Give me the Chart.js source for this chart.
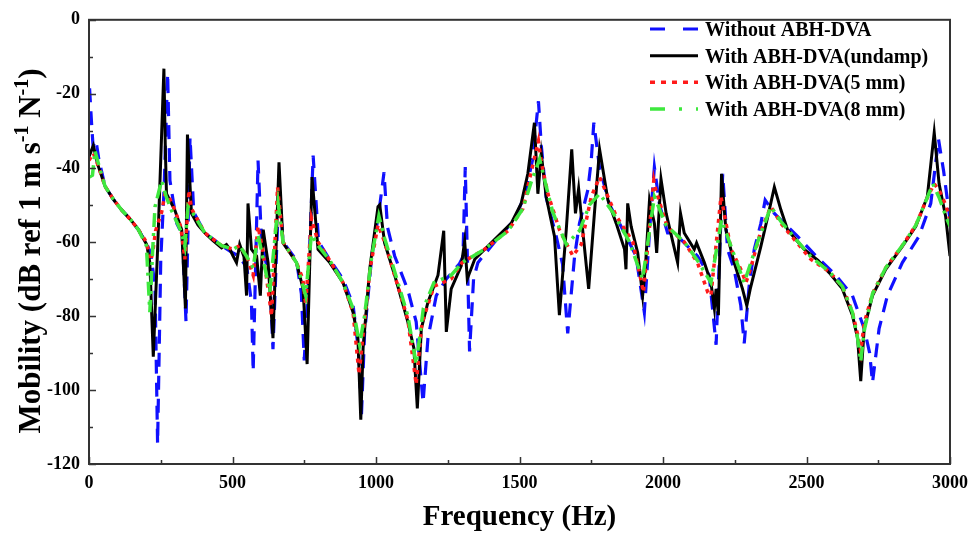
<!DOCTYPE html>
<html>
<head>
    <title>Mobility - ABH-DVA</title>
    <script src="https://cdn.jsdelivr.net/npm/chart.js"></script>
    <style>
        body {
            margin: 0;
            background: #fff;
        }
        #wrap {
            width: 977px;
            height: 534px;
        }
    </style>
</head>
<body>
    <div id="wrap"><canvas id="mobilityChart"></canvas></div>

    <script>
        const seriesNames = ['Without ABH-DVA', 'With ABH-DVA(undamp)', 'With ABH-DVA(5 mm)', 'With ABH-DVA(8 mm)'];
        const xTicks = [0, 500, 1000, 1500, 2000, 2500, 3000];
        const yTicks = [-120, -100, -80, -60, -40, -20, 0];

        // Without ABH-DVA
        const freqBlue = [2, 9, 14, 24, 35, 56, 85, 114, 145, 172, 201, 215, 230, 239, 250, 262, 274, 282, 306, 325, 338, 352, 365, 404, 462, 502, 525, 550, 566, 572, 589, 600, 612, 630, 641, 650, 662, 676, 723, 740, 750, 765, 781, 800, 839, 885, 920, 940, 949, 960, 985, 1010, 1028, 1040, 1065, 1111, 1140, 1164, 1181, 1210, 1245, 1290, 1303, 1311, 1326, 1340, 1355, 1420, 1483, 1520, 1545, 1566, 1576, 1593, 1628, 1650, 1668, 1692, 1709, 1738, 1750, 1759, 1779, 1814, 1860, 1906, 1935, 1955, 1970, 1988, 2016, 2040, 2120, 2161, 2185, 2208, 2225, 2248, 2271, 2283, 2300, 2318, 2341, 2356, 2388, 2469, 2533, 2602, 2660, 2701, 2720, 2730, 2753, 2782, 2834, 2892, 2933, 2960, 2978, 3000];
        const magBlue = [-18.5, -28, -34, -32.5, -38, -45, -48.5, -51.4, -54, -56.7, -60.5, -63, -72, -114.5, -65, -45, -14.5, -43.4, -55, -58, -81.6, -31.8, -52, -57.6, -61, -63, -64, -67, -76.3, -95, -38, -58, -64, -70, -89, -70, -45, -60, -65, -74, -92, -70, -36.7, -60, -64.8, -70, -77, -90, -107.4, -85, -64, -52, -41.2, -56, -63.8, -73, -81.6, -103.4, -86, -74.5, -70, -66, -64, -39.8, -89.6, -70, -65.6, -59.4, -54, -47, -38, -22, -34, -48, -58.5, -66, -84.7, -63.8, -55, -46, -38, -27.8, -40, -50, -56.7, -63.8, -79, -55, -39.8, -50, -57.6, -57.6, -63.8, -69, -87.8, -41.6, -62, -67.4, -77.2, -87.4, -72, -62, -55, -48.7, -52.3, -58.5, -63.8, -69, -74.5, -83.4, -90, -98, -83.4, -74.5, -65.6, -58.5, -49.6, -32.3, -41, -54];

        // With ABH-DVA (undamp)
        const freqBlack = [0, 15, 30, 56, 85, 114, 145, 172, 201, 212, 224, 240, 261, 266, 270, 299, 323, 336, 343, 357, 380, 404, 430, 462, 479, 491, 502, 514, 525, 540, 549, 554, 566, 584, 597, 607, 624, 641, 662, 676, 700, 723, 746, 760, 777, 798, 839, 885, 920, 937, 947, 955, 978, 1007, 1013, 1030, 1065, 1111, 1132, 1144, 1158, 1181, 1216, 1236, 1245, 1262, 1297, 1309, 1318, 1344, 1413, 1471, 1506, 1529, 1552, 1564, 1576, 1593, 1622, 1639, 1663, 1682, 1695, 1706, 1720, 1741, 1761, 1779, 1808, 1837, 1866, 1871, 1877, 1889, 1912, 1929, 1939, 1953, 1970, 1978, 1993, 2011, 2051, 2061, 2074, 2109, 2117, 2144, 2167, 2179, 2185, 2193, 2204, 2219, 2248, 2277, 2292, 2304, 2341, 2365, 2388, 2411, 2434, 2492, 2540, 2579, 2625, 2660, 2678, 2689, 2701, 2730, 2776, 2834, 2881, 2921, 2945, 2962, 2985, 3000];
        const magBlack = [-37, -34, -39, -45, -48.5, -51.4, -54, -56.7, -60.7, -65.6, -91, -60, -13.2, -35, -47, -51.4, -56.7, -78, -31, -52.3, -55.5, -57.6, -59.5, -61.6, -60.7, -62, -63.8, -65.6, -60.7, -64, -74.5, -49.6, -62, -63.8, -74.5, -56.7, -65.6, -86, -38.5, -60.3, -63, -65.6, -72.7, -93, -42.5, -62, -65.6, -71, -79, -86, -108, -88.7, -67.4, -50.5, -50, -60.3, -69, -81.6, -88.7, -105, -83.4, -76.3, -69, -57, -84.3, -72.7, -66.5, -59.8, -70, -64.7, -59.4, -55, -49.6, -41.6, -27.8, -47, -36.3, -47.8, -58.5, -79.8, -56.7, -35, -52.3, -45.6, -56.7, -72.7, -52.3, -35, -48.7, -55, -62, -67.4, -49.6, -55.8, -63, -74.5, -66.5, -48.7, -55, -63, -43, -52.3, -65.6, -52.3, -57.6, -62, -60.3, -65.6, -71, -78, -72.7, -79.8, -41.6, -56.7, -65.6, -72.7, -77.2, -72.7, -61.2, -53.2, -45.2, -51.4, -56.7, -62, -65, -68.3, -72.7, -79.8, -86, -97.6, -83.4, -74.5, -67.4, -61.2, -55.8, -47.8, -30.5, -44.3, -53.2, -63.8];

        // With ABH-DVA (5 mm)
        const freqRed = [0, 15, 30, 56, 85, 114, 145, 172, 200, 215, 222, 232, 253, 265, 276, 299, 320, 334, 348, 357, 404, 462, 502, 525, 550, 572, 589, 605, 630, 636, 657, 676, 723, 745, 755, 775, 798, 839, 885, 920, 941, 955, 980, 1007, 1030, 1065, 1111, 1140, 1160, 1202, 1262, 1300, 1378, 1460, 1512, 1535, 1566, 1576, 1599, 1639, 1686, 1715, 1750, 1779, 1837, 1895, 1932, 1968, 1975, 2011, 2028, 2074, 2120, 2156, 2167, 2202, 2237, 2271, 2289, 2306, 2341, 2376, 2411, 2515, 2579, 2625, 2660, 2678, 2689, 2701, 2730, 2776, 2834, 2881, 2921, 2945, 2962, 2985, 3000];
        const magRed = [-38, -36, -39, -45, -48.5, -51.4, -54, -56.7, -60, -65, -63, -57, -52, -47, -47.4, -51.4, -56, -64.7, -46, -51, -57.6, -61, -62, -61, -64, -69, -55.8, -62, -76.3, -80, -45.2, -60, -65.6, -70, -77, -53.6, -60, -65, -71, -79, -95.8, -85, -67, -55.4, -60, -69, -81, -98.5, -82, -72, -70, -65.6, -62, -57, -51, -43, -32.7, -38.5, -47, -56.7, -63.8, -60.7, -47.8, -42.5, -53, -60, -73.6, -43.4, -46, -55, -57, -60, -65.6, -73.6, -74.5, -47.8, -62, -67.4, -71, -67, -57, -50.5, -55, -64.7, -68, -72, -79, -85, -89.6, -82, -74, -67, -61, -55.5, -48, -44.3, -46, -50, -54];

        // With ABH-DVA (8 mm)
        const freqGreen = [0, 12, 21, 35, 56, 85, 114, 145, 172, 200, 212, 222, 230, 253, 270, 287, 320, 334, 345, 360, 404, 462, 502, 525, 550, 572, 589, 605, 630, 659, 676, 723, 755, 775, 798, 839, 885, 920, 943, 960, 985, 1010, 1030, 1065, 1111, 1140, 1165, 1202, 1262, 1300, 1378, 1460, 1512, 1540, 1570, 1590, 1616, 1663, 1709, 1744, 1779, 1825, 1883, 1929, 1970, 2011, 2074, 2120, 2167, 2204, 2237, 2283, 2330, 2376, 2411, 2515, 2579, 2625, 2660, 2678, 2689, 2701, 2730, 2776, 2834, 2881, 2921, 2940, 2962, 2985, 3000];
        const magGreen = [-42.5, -42, -35.4, -39.5, -45, -48.5, -51.4, -54, -56.7, -61, -79, -62, -50.5, -43.4, -48, -51.4, -57, -61.2, -50.5, -52, -57.6, -61, -62, -61, -64, -67, -58, -64, -73.6, -49.6, -60, -65.6, -74.5, -58, -61, -65, -71, -78, -87.8, -80, -64, -53, -59, -68, -80, -93, -78, -71, -69, -65.6, -62, -57, -51, -44, -37.6, -44, -52, -60.7, -57, -50, -47, -52, -60, -70, -47.8, -55.5, -60, -65, -71, -54, -61.2, -71, -60, -50.5, -54.5, -64, -68, -72, -79, -86, -92.3, -84, -74, -67, -61, -55.5, -48, -44.3, -48, -53, -55.8];

        const serif = '"Liberation Serif", "Times New Roman", serif';

        function toPoints(freqs, mags) {
            return freqs.map((f, i) => ({ x: f, y: mags[i] }));
        }

        // frame, inward ticks, axis titles and legend
        const decorPlugin = {
            id: 'decor',
            afterDraw(chart) {
                const ctx = chart.ctx;
                const a = chart.chartArea;
                const xs = chart.scales.x;
                const ys = chart.scales.y;
                ctx.save();

                ctx.strokeStyle = '#333';
                ctx.lineWidth = 2;
                ctx.strokeRect(a.left, a.top, a.right - a.left, a.bottom - a.top);

                ctx.beginPath();
                for (let v = 0; v <= 3000; v += 250) {
                    const px = Math.round(xs.getPixelForValue(v)) + 0.5;
                    const len = v % 500 === 0 ? 7 : 4;
                    ctx.moveTo(px, a.bottom);
                    ctx.lineTo(px, a.bottom - len);
                }
                for (let v = -120; v <= 0; v += 10) {
                    const py = Math.round(ys.getPixelForValue(v)) + 0.5;
                    const len = v % 20 === 0 ? 7 : 4;
                    ctx.moveTo(a.left, py);
                    ctx.lineTo(a.left + len, py);
                }
                ctx.lineWidth = 1.5;
                ctx.stroke();

                // x title
                ctx.fillStyle = '#000';
                ctx.font = 'bold 29px ' + serif;
                ctx.textAlign = 'center';
                ctx.textBaseline = 'alphabetic';
                ctx.fillText('Frequency (Hz)', (a.left + a.right) / 2, 525);

                // y title with superscripts
                const parts = [
                    ['Mobility (dB ref 1 m s', false],
                    ['-1', true],
                    [' N', false],
                    ['-1', true],
                    [')', false]
                ];
                const bigFont = 'bold 31px ' + serif;
                const supFont = 'bold 20px ' + serif;
                let total = 0;
                parts.forEach(p => {
                    ctx.font = p[1] ? supFont : bigFont;
                    total += ctx.measureText(p[0]).width;
                });
                ctx.translate(40, 251);
                ctx.rotate(-Math.PI / 2);
                ctx.textAlign = 'left';
                let cx = -total / 2;
                parts.forEach(p => {
                    ctx.font = p[1] ? supFont : bigFont;
                    ctx.fillText(p[0], cx, p[1] ? -12 : 0);
                    cx += ctx.measureText(p[0]).width;
                });
                ctx.setTransform(1, 0, 0, 1, 0, 0);

                // legend
                const rows = [36, 62.7, 89.3, 116];
                chart.data.datasets.forEach((ds, i) => {
                    const ly = rows[i] - 7;
                    ctx.beginPath();
                    ctx.strokeStyle = ds.borderColor;
                    ctx.lineWidth = ds.borderWidth;
                    ctx.setLineDash(ds.legendDash || []);
                    ctx.moveTo(650, ly);
                    ctx.lineTo(698, ly);
                    ctx.stroke();
                    ctx.setLineDash([]);
                    ctx.fillStyle = '#000';
                    ctx.font = 'bold 20px ' + serif;
                    ctx.textAlign = 'left';
                    ctx.fillText(ds.label, 705, rows[i]);
                });

                ctx.restore();
            }
        };

        const data = {
            datasets: [
                {
                    label: seriesNames[0],
                    data: toPoints(freqBlue, magBlue),
                    borderColor: '#1010ff',
                    borderWidth: 3.2,
                    borderDash: [14, 9],
                    legendDash: [15, 18],
                    order: 4
                },
                {
                    label: seriesNames[1],
                    data: toPoints(freqBlack, magBlack),
                    borderColor: '#000000',
                    borderWidth: 3,
                    order: 3
                },
                {
                    label: seriesNames[2],
                    data: toPoints(freqRed, magRed),
                    borderColor: '#ff1a1a',
                    borderWidth: 3.5,
                    borderDash: [4, 5],
                    legendDash: [5, 6],
                    order: 2
                },
                {
                    label: seriesNames[3],
                    data: toPoints(freqGreen, magGreen),
                    borderColor: '#3ee83e',
                    borderWidth: 3.5,
                    borderDash: [14, 6, 3, 6],
                    legendDash: [15, 14, 3, 14],
                    order: 1
                }
            ]
        };

        const config = {
            type: 'line',
            data: data,
            options: {
                responsive: true,
                maintainAspectRatio: false,
                animation: false,
                layout: { padding: { left: 0, right: 26, top: 14, bottom: 0 } },
                elements: {
                    point: { radius: 0 },
                    line: { tension: 0 }
                },
                plugins: {
                    legend: { display: false },
                    tooltip: { enabled: false }
                },
                scales: {
                    x: {
                        type: 'linear',
                        min: 0,
                        max: 3000,
                        afterBuildTicks: (s) => { s.ticks = xTicks.map(v => ({ value: v })); },
                        afterFit: (s) => { s.height = 70; },
                        grid: { display: false, drawTicks: false },
                        border: { display: false },
                        ticks: {
                            color: '#000',
                            padding: 9,
                            maxRotation: 0,
                            callback: (v) => String(v),
                            font: { family: serif, size: 18, weight: 'bold' }
                        }
                    },
                    y: {
                        min: -120,
                        max: 0,
                        afterBuildTicks: (s) => { s.ticks = yTicks.map(v => ({ value: v })); },
                        afterFit: (s) => { s.width = 89; },
                        grid: { display: false, drawTicks: false },
                        border: { display: false },
                        ticks: {
                            color: '#000',
                            padding: 9,
                            callback: (v) => String(v),
                            font: { family: serif, size: 18, weight: 'bold' }
                        }
                    }
                }
            },
            plugins: [decorPlugin]
        };

        new Chart(document.getElementById('mobilityChart'), config);
    </script>
</body>
</html>
